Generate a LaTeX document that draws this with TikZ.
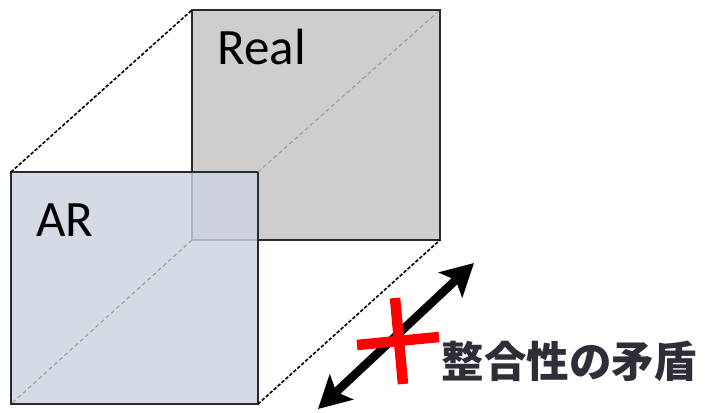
\documentclass[tikz,border=0pt]{standalone}
\usepackage{fontspec}
\setmainfont{Carlito}
\newfontfamily\jpfont{Noto Sans CJK JP}
\usetikzlibrary{arrows.meta}
\definecolor{realgray}{HTML}{D0CDCE}
\definecolor{arblue}{HTML}{CCD3DF}
\definecolor{framec}{HTML}{2A2A2A}
\definecolor{txtc}{HTML}{2E2E38}
\begin{document}
\begin{tikzpicture}[x=1pt,y=-1pt,
  realbox/.style={draw=framec,line width=1.5pt,fill=realgray,minimum width=248pt,minimum height=230pt,inner sep=0pt,outer sep=0pt},
  arbox/.style={draw=framec,line width=1.5pt,fill=arblue,fill opacity=0.82,draw opacity=1,minimum width=247pt,minimum height=232pt,inner sep=0pt,outer sep=0pt},
  persp/.style={draw=black,line width=1.6pt,dash pattern=on 3.5pt off 1.8pt},
  diag/.style={draw=gray!75,line width=1.1pt,dash pattern=on 4pt off 3pt},
  bigarrow/.style={line width=8.5pt,{Stealth[length=32pt,width=34pt,inset=7pt]}-{Stealth[length=32pt,width=34pt,inset=7pt]}},
  redbar/.style={draw=red,line width=10.5pt},
  lbl/.style={font=\fontsize{51}{51}\selectfont,anchor=base west,inner sep=0pt,text=black}
]
\useasboundingbox (0,0) rectangle (706,412);
\node[realbox] (real) at (316,125) {};
\node[arbox] (ar) at (134.5,288) {};
\draw[diag] (ar.north east) -- (real.north east);
\draw[diag] (real.south west) -- (ar.south west);
\draw[persp] (ar.north west) -- (real.north west);
\draw[persp] (ar.south east) -- (real.south east);
\node[lbl] (reallbl) at (217.5,64.5) {Real};
\node[lbl] (arlbl) at (36,236.5) {AR};
\coordinate (aS) at (318,409);
\coordinate (aE) at (474,263);
\draw[bigarrow] (aS) -- (aE);
\coordinate (xv1) at (395,298);
\coordinate (xv2) at (403,384);
\coordinate (xh1) at (357,345);
\coordinate (xh2) at (439,337);
\draw[redbar] (xv1) -- (xv2);
\draw[redbar] (xh1) -- (xh2);
\node[font=\jpfont\bfseries\fontsize{42.5}{42.5}\selectfont,text=txtc,inner sep=0pt] (mujun) at (569,361) {整合性の矛盾};
\end{tikzpicture}
\end{document}
